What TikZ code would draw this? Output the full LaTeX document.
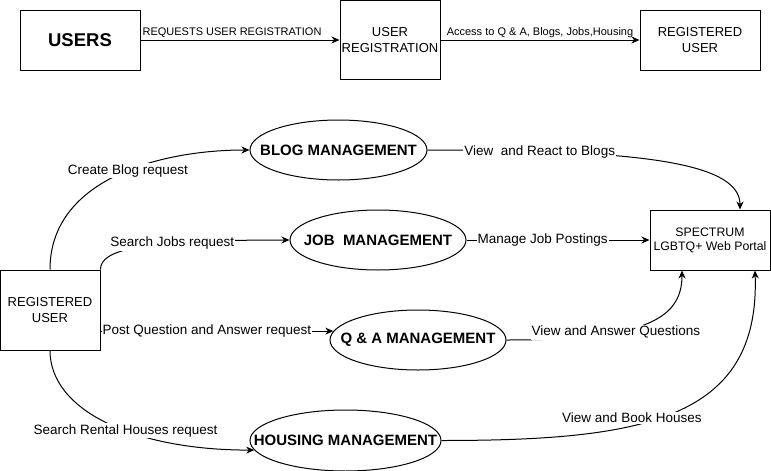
\documentclass[tikz,border=0pt]{standalone}
\usepackage{fontspec}
\setmainfont{Liberation Sans}
\usetikzlibrary{shapes.geometric,arrows.meta,calc}
\begin{document}
\begin{tikzpicture}[x=1pt,y=-1pt,line width=1pt,
  box/.style={draw,rectangle,inner sep=0pt,align=center,font=\fontsize{13}{15.5}\selectfont},
  proc/.style={draw,ellipse,inner sep=0pt,minimum height=60pt,font=\fontsize{15}{18}\selectfont\bfseries},
  arr/.style={-{Stealth[length=8pt,width=7pt,inset=2.5pt]}},
  lbl/.style={fill=white,inner sep=1pt,font=\fontsize{13.5}{16}\selectfont},
  slbl/.style={inner sep=1pt,font=\fontsize{11}{13}\selectfont},
]
\useasboundingbox (0,0) rectangle (771,471);

% top row
\node[box,minimum width=120pt,minimum height=60pt,font=\fontsize{18.5}{20}\selectfont\bfseries] (users) at (80,40) {USERS};
\node[box,minimum width=100pt,minimum height=79pt] (ureg) at (390,40) {USER\\REGISTRATION};
\node[box,minimum width=120pt,minimum height=60pt] (rtop) at (700,40) {REGISTERED\\USER};

\draw[arr] (users.east) -- (ureg.west) node[slbl,pos=0.46,above=1pt] {REQUESTS USER REGISTRATION};
\draw[arr] (ureg.east) -- (rtop.west) node[slbl,midway,above=1pt] {Access to Q \& A, Blogs, Jobs,Housing};

% lower part
\node[box,minimum width=100pt,minimum height=80pt] (ru) at (50,310) {REGISTERED\\USER};
\node[box,minimum width=120pt,minimum height=60pt,font=\fontsize{12.3}{14}\selectfont] (spec) at (710,240) {SPECTRUM\\LGBTQ+ Web Portal};

\node[proc,minimum width=177pt] (blog) at (338.5,150) {\makebox[0pt]{BLOG MANAGEMENT}};
\node[proc,minimum width=176pt] (job) at (378,240) {\makebox[0pt]{JOB\ \ MANAGEMENT}};
\node[proc,minimum width=176pt] (qa) at (418,340) {\makebox[0pt]{Q \& A MANAGEMENT}};
\node[proc,minimum width=191pt,minimum height=61pt] (house) at (345.5,440.5) {\makebox[0pt]{HOUSING MANAGEMENT}};

% requests from registered user
\draw[arr] (ru.north) .. controls +(0,-90) and +(-90,0) .. (blog.west)
  node[lbl,pos=0.55] {Create Blog request};
\draw[arr] (ru.north east) .. controls +(0,-20) and +(-150,0) .. (job.west)
  node[lbl,pos=0.66] {Search Jobs request};
\draw[arr] (ru.east |- qa.174) -- (qa.174)
  node[lbl,pos=0.457] {Post Question and Answer request};
\draw[arr] (ru.south) .. controls +(0,60) and +(-120,0) .. (house.186.7)
  node[lbl,pos=0.58] {Search Rental Houses request};

% flows to the portal
\draw[arr] (blog.east) .. controls +(195,0) and +(0,-50) .. ($(spec.north)+(30,0)$)
  node[lbl,pos=0.21] {View\ \ and React to Blogs};
\draw[arr] (job.east) -- (spec.west)
  node[lbl,pos=0.416] {Manage Job Postings};
\draw[arr] (qa.east) .. controls +(135,0) and +(0,50) .. ($(spec.south)+(-28,0)$)
  node[lbl,pos=0.35] {View and Answer Questions};
\draw[arr] (house.east) .. controls +(200,0) and +(5,150) .. ($(spec.south)+(45,0)$)
  node[lbl,pos=0.38,yshift=8pt] {View and Book Houses};
\end{tikzpicture}
\end{document}
